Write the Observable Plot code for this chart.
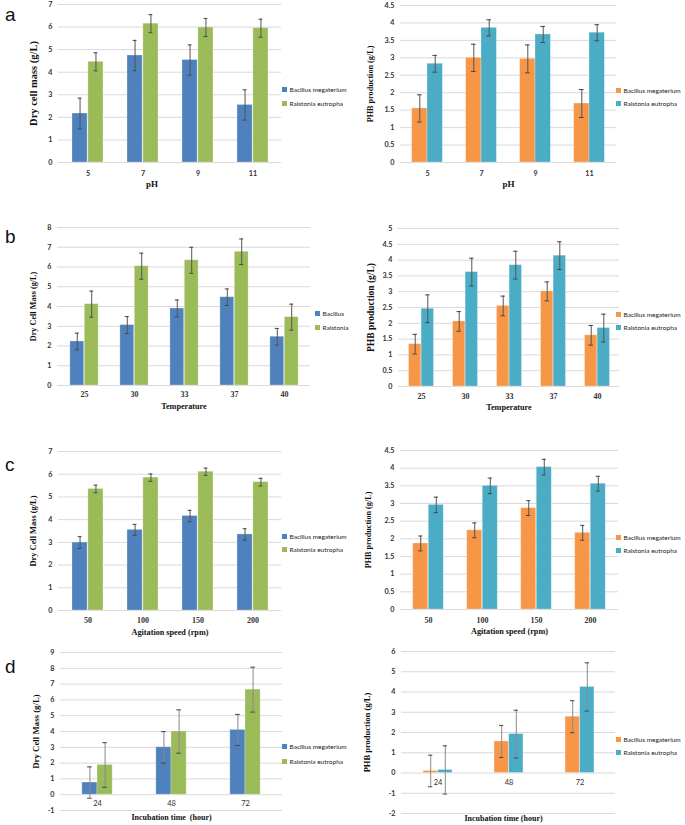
<!DOCTYPE html>
<html>
<head>
<meta charset="utf-8">
<script src="https://cdn.jsdelivr.net/npm/d3@7"></script>
<script src="https://cdn.jsdelivr.net/npm/@observablehq/plot@0.6"></script>
<style>
  html, body { margin: 0; padding: 0; background: #fff; }
  #root { position: relative; width: 685px; height: 825px; overflow: hidden; background: #fff; }
  .panel { position: absolute; }
  .legend { position: absolute; font-family: Lato, "Liberation Sans", sans-serif; font-size: 6.5px; color: #222; white-space: nowrap; }
  .legend .row { position: absolute; left: 0; display: flex; align-items: center; }
  .legend .sw { width: 5px; height: 5px; margin-right: 2.5px; }
  .letter { position: absolute; font-family: "Liberation Sans", Arial, sans-serif; font-size: 19px; color: #111; line-height: 1; }
</style>
</head>
<body>
<div id="root"></div>
<script>
// ---------- data ----------
const seriesNames = ["Bacillus megaterium", "Ralstonia eutropha"];
const seriesNamesB = ["Bacillus", "Ralstonia"];

const pHCats = ["5", "7", "9", "11"];
const aDcmBacillus = [2.17, 4.74, 4.54, 2.55];
const aDcmBacillusErr = [0.68, 0.67, 0.67, 0.67];
const aDcmRalstonia = [4.46, 6.15, 5.98, 5.95];
const aDcmRalstoniaErr = [0.40, 0.40, 0.40, 0.40];
const aPhbBacillus = [1.55, 3.00, 2.97, 1.69];
const aPhbBacillusErr = [0.39, 0.39, 0.40, 0.40];
const aPhbRalstonia = [2.83, 3.86, 3.67, 3.72];
const aPhbRalstoniaErr = [0.24, 0.23, 0.23, 0.23];

const tempCats = ["25", "30", "33", "37", "40"];
const bDcmBacillus = [2.23, 3.06, 3.90, 4.47, 2.47];
const bDcmBacillusErr = [0.42, 0.43, 0.43, 0.42, 0.42];
const bDcmRalstonia = [4.12, 6.04, 6.34, 6.77, 3.46];
const bDcmRalstoniaErr = [0.66, 0.66, 0.66, 0.65, 0.66];
const bPhbBacillus = [1.34, 2.06, 2.55, 3.01, 1.62];
const bPhbBacillusErr = [0.31, 0.31, 0.31, 0.30, 0.31];
const bPhbRalstonia = [2.46, 3.62, 3.84, 4.14, 1.85];
const bPhbRalstoniaErr = [0.44, 0.44, 0.44, 0.44, 0.44];

const agitCats = ["50", "100", "150", "200"];
const cDcmBacillus = [2.99, 3.55, 4.16, 3.35];
const cDcmBacillusErr = [0.26, 0.24, 0.25, 0.25];
const cDcmRalstonia = [5.35, 5.85, 6.11, 5.65];
const cDcmRalstoniaErr = [0.17, 0.16, 0.16, 0.17];
const cPhbBacillus = [1.87, 2.24, 2.87, 2.17];
const cPhbBacillusErr = [0.21, 0.21, 0.21, 0.21];
const cPhbRalstonia = [2.96, 3.50, 4.03, 3.56];
const cPhbRalstoniaErr = [0.22, 0.22, 0.22, 0.21];

const timeCats = ["24", "48", "72"];
const dDcmBacillus = [0.77, 3.00, 4.10];
const dDcmBacillusErr = [0.99, 0.99, 0.98];
const dDcmRalstonia = [1.88, 4.00, 6.65];
const dDcmRalstoniaErr = [1.41, 1.37, 1.42];
const dPhbBacillus = [0.10, 1.56, 2.78];
const dPhbBacillusErr = [0.78, 0.79, 0.79];
const dPhbRalstonia = [0.15, 1.92, 4.25];
const dPhbRalstoniaErr = [1.19, 1.18, 1.19];

const ticks0to7 = [0, 1, 2, 3, 4, 5, 6, 7];
const ticks0to8 = [0, 1, 2, 3, 4, 5, 6, 7, 8];
const ticks0to45 = [0, 0.5, 1, 1.5, 2, 2.5, 3, 3.5, 4, 4.5];
const ticks0to5 = [0, 0.5, 1, 1.5, 2, 2.5, 3, 3.5, 4, 4.5, 5];
const ticksM1to9 = [-1, 0, 1, 2, 3, 4, 5, 6, 7, 8, 9];
const ticksM2to6 = [-2, -1, 0, 1, 2, 3, 4, 5, 6];

const BLUE = "#4F81BD", GREEN = "#9BBB59", ORANGE = "#F79646", TEAL = "#4BACC6";

// ---------- panels ----------
const panels = [
  {L: 0, px0: 58, px1: 281, py0: 4, py1: 162, dom: [0, 7], ticks: ticks0to7, cats: pHCats,
   v1: aDcmBacillus, e1: aDcmBacillusErr, v2: aDcmRalstonia, e2: aDcmRalstoniaErr, colors: [BLUE, GREEN],
   group: 0.57, yTitle: "Dry cell mass (g/L)", yTitleX: 33, yTitleSize: 10.5, xTitle: "pH", xTitleSize: 9, xTitleY: 184, xTitleDx: -18,
   xLabelY: 173, xSerif: false, names: seriesNames, legX: 282, legY: [89, 103], letter: "a", letterY: 20},
  {L: 343, px0: 400, px1: 616, py0: 5, py1: 162, dom: [0, 4.5], ticks: ticks0to45, cats: pHCats,
   v1: aPhbBacillus, e1: aPhbBacillusErr, v2: aPhbRalstonia, e2: aPhbRalstoniaErr, colors: [ORANGE, TEAL],
   group: 0.57, yTitle: "PHB production (g/L)", yTitleX: 370, yTitleSize: 8.2, xTitle: "pH", xTitleSize: 9, xTitleY: 184, xTitleDx: 0,
   xLabelY: 173, xSerif: false, names: seriesNames, legX: 616, legY: [90, 103]},
  {L: 0, px0: 57, px1: 310, py0: 227, py1: 385, dom: [0, 8], ticks: ticks0to8, cats: tempCats,
   v1: bDcmBacillus, e1: bDcmBacillusErr, v2: bDcmRalstonia, e2: bDcmRalstoniaErr, colors: [BLUE, GREEN],
   group: 0.57, yTitle: "Dry Cell Mass (g/L)", yTitleX: 33, yTitleSize: 8.2, xTitle: "Temperature", xTitleSize: 8.2, xTitleY: 406, xTitleDx: 0,
   xLabelY: 394, xSerif: true, names: seriesNamesB, legX: 315, legY: [313, 327], letter: "b", letterY: 242},
  {L: 343, px0: 398, px1: 619, py0: 228, py1: 386, dom: [0, 5], ticks: ticks0to5, cats: tempCats,
   v1: bPhbBacillus, e1: bPhbBacillusErr, v2: bPhbRalstonia, e2: bPhbRalstoniaErr, colors: [ORANGE, TEAL],
   group: 0.57, yTitle: "PHB production (g/L)", yTitleX: 370, yTitleSize: 9.5, xTitle: "Temperature", xTitleSize: 8.2, xTitleY: 407, xTitleDx: 0,
   xLabelY: 396, xSerif: true, names: seriesNames, legX: 616, legY: [314, 327]},
  {L: 0, px0: 58, px1: 281, py0: 451, py1: 610, dom: [0, 7], ticks: ticks0to7, cats: agitCats,
   v1: cDcmBacillus, e1: cDcmBacillusErr, v2: cDcmRalstonia, e2: cDcmRalstoniaErr, colors: [BLUE, GREEN],
   group: 0.57, yTitle: "Dry Cell Mass (g/L)", yTitleX: 33, yTitleSize: 8.4, xTitle: "Agitation speed (rpm)", xTitleSize: 8.2, xTitleY: 632, xTitleDx: 0,
   xLabelY: 620, xSerif: true, names: seriesNames, legX: 282, legY: [536, 549], letter: "c", letterY: 470},
  {L: 343, px0: 400, px1: 618, py0: 450, py1: 609, dom: [0, 4.5], ticks: ticks0to45, cats: agitCats,
   v1: cPhbBacillus, e1: cPhbBacillusErr, v2: cPhbRalstonia, e2: cPhbRalstoniaErr, colors: [ORANGE, TEAL],
   group: 0.57, yTitle: "PHB production (g/L)", yTitleX: 368, yTitleSize: 8.2, xTitle: "Agitation speed (rpm)", xTitleSize: 8.2, xTitleY: 631, xTitleDx: 0,
   xLabelY: 620, xSerif: true, names: seriesNames, legX: 616, legY: [537, 550]},
  {L: 0, px0: 60, px1: 282, py0: 652, py1: 810, dom: [-1, 9], ticks: ticksM1to9, cats: timeCats,
   v1: dDcmBacillus, e1: dDcmBacillusErr, v2: dDcmRalstonia, e2: dDcmRalstoniaErr, colors: [BLUE, GREEN],
   group: 0.41, yTitle: "Dry Cell Mass (g/L)", yTitleX: 36, yTitleSize: 8.8, xTitle: "Incubation time  (hour)", xTitleSize: 8, xTitleY: 817, xTitleDx: 0,
   atZeroDy: 9, xSerif: false, names: seriesNames, legX: 282, legY: [746, 761], letter: "d", letterY: 672, errColor: "#8a8a8a"},
  {L: 343, px0: 401, px1: 615, py0: 651, py1: 813, dom: [-2, 6], ticks: ticksM2to6, cats: timeCats,
   v1: dPhbBacillus, e1: dPhbBacillusErr, v2: dPhbRalstonia, e2: dPhbRalstoniaErr, colors: [ORANGE, TEAL],
   group: 0.41, yTitle: "PHB production (g/L)", yTitleX: 367, yTitleSize: 8.5, xTitle: "Incubation time (hour)", xTitleSize: 8, xTitleY: 818, xTitleDx: -5,
   atZeroDy: 10, xSerif: false, names: seriesNames, legX: 616, legY: [739, 752], errColor: "#8a8a8a"}
];

const root = document.getElementById("root");

for (const cfg of panels) {
  const n = cfg.cats.length;
  const bw = (cfg.px1 - cfg.px0) / n;
  const barW = bw * cfg.group / 2;
  const r0 = cfg.cats.map((c, i) => ({cat: c, v: cfg.v1[i], e: cfg.e1[i]}));
  const r1 = cfg.cats.map((c, i) => ({cat: c, v: cfg.v2[i], e: cfg.e2[i]}));
  const T = cfg.py0 - 10;
  const Hs = cfg.xTitleY + 9 - T;
  const Wd = cfg.L === 0 ? 343 : 342;
  const errColor = cfg.errColor || "#555";
  const cap = 2.3;
  const tickFont = 7.2;
  const serif = "'Liberation Serif', 'Times New Roman', serif";
  const sans = "Lato, 'Liberation Sans', sans-serif";

  const marks = [
    Plot.gridY(cfg.ticks, {stroke: "#d9d9d9", strokeOpacity: 1, strokeWidth: 1}),
    Plot.barY(r0, {x: "cat", y1: () => 0, y2: "v", fill: cfg.colors[0],
      insetLeft: bw / 2 - barW, insetRight: bw / 2, stroke: "#ffffff", strokeOpacity: 0.35, strokeWidth: 0.8}),
    Plot.barY(r1, {x: "cat", y1: () => 0, y2: "v", fill: cfg.colors[1],
      insetLeft: bw / 2, insetRight: bw / 2 - barW, stroke: "#ffffff", strokeOpacity: 0.35, strokeWidth: 0.8}),
  ];
  [[r0, -barW / 2], [r1, barW / 2]].forEach(([rows, off]) => {
    marks.push(Plot.ruleX(rows, {x: "cat", y1: d => d.v - d.e, y2: d => d.v + d.e, dx: off, stroke: errColor, strokeWidth: 1}));
    marks.push(Plot.tickY(rows, {x: "cat", y: d => d.v + d.e, dx: off, insetLeft: bw / 2 - cap, insetRight: bw / 2 - cap, stroke: "#444", strokeWidth: 1}));
    marks.push(Plot.tickY(rows, {x: "cat", y: d => d.v - d.e, dx: off, insetLeft: bw / 2 - cap, insetRight: bw / 2 - cap, stroke: "#444", strokeWidth: 1}));
  });
  marks.push(Plot.axisY({ticks: cfg.ticks, tickSize: 0, tickPadding: 6, fontSize: tickFont, fontWeight: "bold", tickFormat: d => String(d), label: null}));
  if (cfg.atZeroDy !== undefined) {
    marks.push(Plot.text(cfg.cats, {x: d => d, y: () => 0, dy: cfg.atZeroDy, text: d => d, fontSize: 7.5, fill: "#333"}));
  } else {
    marks.push(Plot.axisX({tickSize: 0, tickPadding: cfg.xLabelY - cfg.py1 - 3, fontSize: cfg.xSerif ? 8 : tickFont,
      fontWeight: "bold", fontFamily: cfg.xSerif ? serif : sans, label: null}));
  }
  marks.push(Plot.text([cfg.yTitle], {frameAnchor: "left", rotate: -90, dx: cfg.yTitleX - cfg.px0, text: d => d,
    textAnchor: "middle", lineAnchor: "middle",
    fontFamily: serif, fontWeight: "bold", fontSize: cfg.yTitleSize, fill: "#111"}));
  marks.push(Plot.text([cfg.xTitle], {frameAnchor: "bottom", dy: cfg.xTitleY - cfg.py1, dx: cfg.xTitleDx, text: d => d,
    textAnchor: "middle", lineAnchor: "middle",
    fontFamily: serif, fontWeight: "bold", fontSize: cfg.xTitleSize, fill: "#111"}));

  const svg = Plot.plot({
    width: Wd, height: Hs,
    marginLeft: cfg.px0 - cfg.L, marginRight: cfg.L + Wd - cfg.px1,
    marginTop: cfg.py0 - T, marginBottom: T + Hs - cfg.py1,
    x: {type: "band", domain: cfg.cats, padding: 0, axis: null},
    y: {domain: cfg.dom, axis: null},
    style: {fontFamily: sans, color: "#333", background: "transparent", overflow: "visible"},
    marks
  });
  const wrap = document.createElement("div");
  wrap.className = "panel";
  wrap.style.left = cfg.L + "px";
  wrap.style.top = T + "px";
  wrap.appendChild(svg);
  root.appendChild(wrap);

  // legend
  const leg = document.createElement("div");
  leg.className = "legend";
  leg.style.left = cfg.legX + "px";
  leg.style.top = "0px";
  cfg.names.forEach((name, i) => {
    const row = document.createElement("div");
    row.className = "row";
    row.style.top = (cfg.legY[i] - 5) + "px";
    row.style.height = "10px";
    const sw = document.createElement("span");
    sw.className = "sw";
    sw.style.background = cfg.colors[i];
    const tx = document.createElement("span");
    tx.textContent = name;
    row.appendChild(sw);
    row.appendChild(tx);
    leg.appendChild(row);
  });
  root.appendChild(leg);

  if (cfg.letter) {
    const lt = document.createElement("div");
    lt.className = "letter";
    lt.textContent = cfg.letter;
    lt.style.left = "5px";
    lt.style.top = (cfg.letterY - 15) + "px";
    root.appendChild(lt);
  }
}
</script>
</body>
</html>
